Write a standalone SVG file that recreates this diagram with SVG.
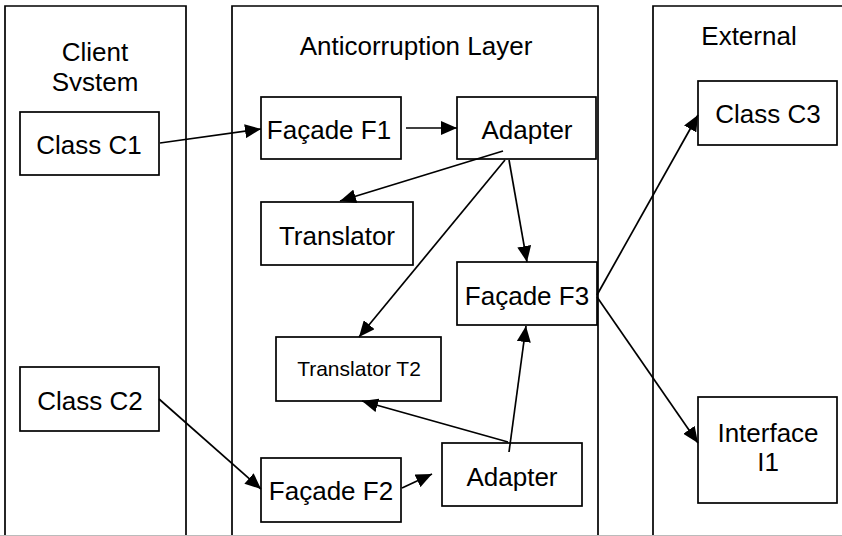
<svg xmlns="http://www.w3.org/2000/svg" width="842" height="536" viewBox="0 0 842 536">
<defs>
<style>
.cont{fill:#fff;stroke:#000;stroke-width:1.7}
.box{fill:#fff;stroke:#000;stroke-width:1.7}
.t{font-family:"Liberation Sans",Arial,sans-serif;font-size:26px;fill:#000;text-anchor:middle}
.s{font-size:21px}
.c{fill:none;stroke:#000;stroke-width:1.7;marker-end:url(#ah)}
</style>
<marker id="ah" markerUnits="userSpaceOnUse" markerWidth="17" markerHeight="14" refX="16" refY="7" orient="auto">
<path d="M0,0 L16,7 L0,14 z" fill="#000"/>
</marker>
<clipPath id="clipSys"><rect x="0" y="0" width="200" height="91"/></clipPath>
</defs>
<rect width="842" height="536" fill="#fff"/>
<g id="client-system">
<path class="cont" d="M5,536 V6 H186 V536"/>
<text class="t" x="95" y="61">Client</text>
<text class="t" x="95" y="91" clip-path="url(#clipSys)">System</text>
</g>
<g id="anticorruption-layer">
<path class="cont" d="M232,536 V6 H598 V536"/>
<text class="t" x="416" y="55">Anticorruption Layer</text>
</g>
<g id="external">
<path class="cont" d="M653,536 V6 H850"/>
<text class="t" x="749" y="45">External</text>
</g>
<line x1="0" y1="535.5" x2="842" y2="535.5" stroke="#bbb" stroke-width="1"/>
<g id="class-c1"><rect class="box" x="20" y="112" width="139" height="63"/><text class="t" x="89" y="154">Class C1</text></g>
<g id="class-c2"><rect class="box" x="20" y="367" width="139" height="64"/><text class="t" x="90" y="410">Class C2</text></g>
<g id="facade-f1"><rect class="box" x="261" y="97" width="140" height="62"/><text class="t" x="329" y="139">Façade F1</text></g>
<g id="adapter-top"><rect class="box" x="457" y="97" width="139" height="62"/><text class="t" x="527" y="139">Adapter</text></g>
<g id="translator"><rect class="box" x="261" y="202" width="152" height="63"/><text class="t" x="337" y="245">Translator</text></g>
<g id="facade-f3"><rect class="box" x="457" y="262" width="140" height="63"/><text class="t" x="527" y="305">Façade F3</text></g>
<g id="translator-t2"><rect class="box" x="276" y="337" width="165" height="64"/><text class="t s" x="359" y="376">Translator T2</text></g>
<g id="adapter-bottom"><rect class="box" x="442" y="443" width="140" height="63"/><text class="t" x="512" y="486">Adapter</text></g>
<g id="facade-f2"><rect class="box" x="261" y="458" width="140" height="64"/><text class="t" x="331" y="500">Façade F2</text></g>
<g id="class-c3"><rect class="box" x="698" y="81" width="139" height="64"/><text class="t" x="768" y="123">Class C3</text></g>
<g id="interface-i1"><rect class="box" x="698" y="397" width="139" height="106"/><text class="t" x="768" y="442">Interface</text><text class="t" x="768" y="471">I1</text></g>
<g id="connectors">
<line class="c" x1="160" y1="143" x2="261" y2="129"/>
<line class="c" x1="406" y1="128" x2="457" y2="128"/>
<line class="c" x1="503" y1="151" x2="340" y2="201"/>
<line class="c" x1="505" y1="160" x2="359" y2="337"/>
<line class="c" x1="509" y1="160" x2="527" y2="262"/>
<line class="c" x1="597" y1="295" x2="698" y2="115"/>
<line class="c" x1="597" y1="297" x2="698" y2="443"/>
<line class="c" x1="159" y1="399" x2="261" y2="489"/>
<line class="c" x1="402" y1="488" x2="432" y2="474"/>
<line class="c" x1="509" y1="452" x2="526" y2="326"/>
<line class="c" x1="508" y1="442" x2="362" y2="401"/>
</g>
</svg>
